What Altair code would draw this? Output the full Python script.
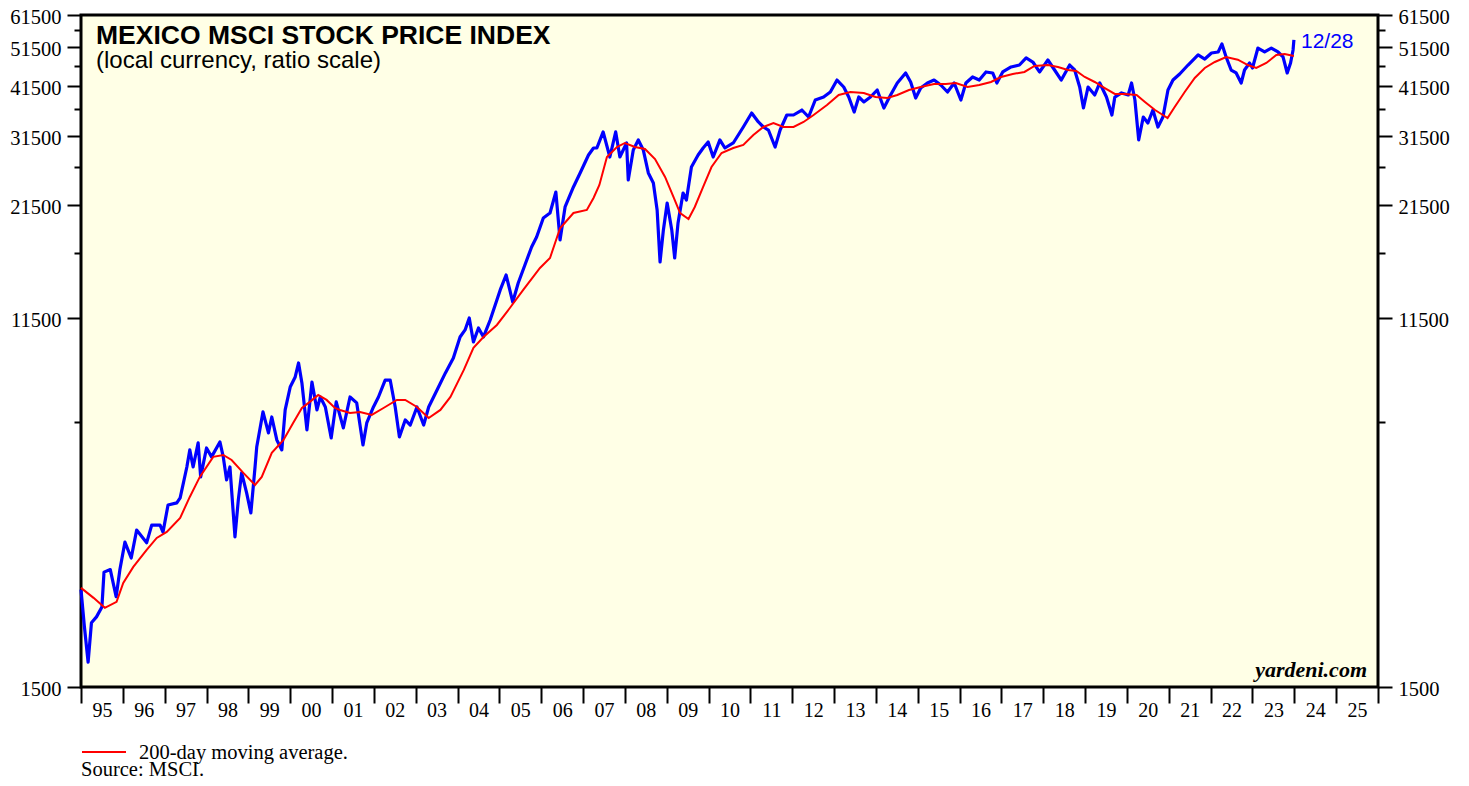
import altair as alt
import pandas as pd

# ---- data ----
IDX_YEAR = [1995.00, 1995.08, 1995.17, 1995.25, 1995.37, 1995.50, 1995.55, 1995.70, 1995.84, 1995.93,
            1996.05, 1996.20, 1996.33, 1996.57, 1996.69, 1996.89, 1996.96, 1997.08, 1997.29, 1997.37,
            1997.53, 1997.60, 1997.68, 1997.80, 1997.86, 1998.00, 1998.12, 1998.32, 1998.40, 1998.48,
            1998.56, 1998.68, 1998.76, 1998.84, 1998.96, 1999.06, 1999.16, 1999.20, 1999.35, 1999.48,
            1999.56, 1999.68, 1999.80, 1999.88, 2000.00, 2000.12, 2000.20, 2000.28, 2000.40, 2000.52,
            2000.64, 2000.72, 2000.84, 2000.98, 2001.10, 2001.27, 2001.43, 2001.59, 2001.74, 2001.83,
            2001.99, 2002.11, 2002.27, 2002.39, 2002.51, 2002.61, 2002.75, 2002.87, 2003.03, 2003.19,
            2003.31, 2003.51, 2003.71, 2003.90, 2004.06, 2004.18, 2004.28, 2004.38, 2004.50, 2004.62,
            2004.78, 2004.94, 2005.02, 2005.16, 2005.32, 2005.45, 2005.61, 2005.77, 2005.89, 2006.05,
            2006.21, 2006.35, 2006.45, 2006.57, 2006.77, 2006.93, 2007.13, 2007.25, 2007.33, 2007.48,
            2007.64, 2007.78, 2007.88, 2008.04, 2008.08, 2008.20, 2008.32, 2008.44, 2008.56, 2008.68,
            2008.77, 2008.84, 2008.92, 2009.01, 2009.12, 2009.19, 2009.27, 2009.39, 2009.47, 2009.59,
            2009.75, 2009.87, 2009.99, 2010.11, 2010.27, 2010.39, 2010.59, 2010.83, 2011.03, 2011.19,
            2011.31, 2011.43, 2011.59, 2011.71, 2011.87, 2012.03, 2012.23, 2012.39, 2012.55, 2012.75,
            2012.91, 2013.07, 2013.23, 2013.35, 2013.48, 2013.59, 2013.71, 2013.87, 2014.03, 2014.19,
            2014.35, 2014.51, 2014.71, 2014.83, 2014.95, 2015.07, 2015.23, 2015.39, 2015.55, 2015.71,
            2015.87, 2016.03, 2016.15, 2016.31, 2016.47, 2016.63, 2016.79, 2016.89, 2017.03, 2017.23,
            2017.43, 2017.59, 2017.75, 2017.91, 2018.11, 2018.27, 2018.43, 2018.63, 2018.75, 2018.87,
            2018.96, 2019.07, 2019.23, 2019.35, 2019.51, 2019.64, 2019.71, 2019.87, 2020.03, 2020.11,
            2020.19, 2020.28, 2020.39, 2020.50, 2020.62, 2020.74, 2020.86, 2020.98, 2021.10, 2021.26,
            2021.46, 2021.70, 2021.86, 2022.02, 2022.18, 2022.27, 2022.37, 2022.49, 2022.61, 2022.73,
            2022.81, 2022.93, 2023.00, 2023.13, 2023.29, 2023.45, 2023.61, 2023.73, 2023.83, 2023.91,
            2023.97, 2023.99]
IDX_VALUE = [2570, 2100, 1720, 2140, 2210, 2335, 2830, 2870, 2470, 2870,
             3340, 3060, 3570, 3330, 3670, 3670, 3530, 4100, 4150, 4265,
             5060, 5560, 5060, 5780, 4790, 5620, 5350, 5810, 5350, 4710,
             5060, 3440, 4220, 4900, 4380, 3925, 5060, 5650, 6860, 6110,
             6670, 5875, 5560, 6935, 7870, 8320, 8990, 8050, 6210, 8090,
             6935, 7450, 7050, 5940, 7250, 6280, 7450, 7210, 5715, 6455,
             7050, 7450, 8180, 8180, 7050, 5975, 6560, 6380, 7050, 6380,
             7050, 7745, 8510, 9240, 10380, 10790, 11530, 10100, 10910, 10380,
             11400, 12730, 13460, 14620, 12590, 13990, 15450, 17070, 18040, 20030,
             20590, 23120, 17740, 21290, 23780, 25690, 28370, 29490, 29490, 32230,
             28060, 32230, 28060, 30320, 24710, 29160, 30830, 29160, 25690, 24300,
             20940, 15710, 18750, 21760, 18750, 16060, 19490, 22990, 22130, 26550,
             28370, 29490, 30490, 28060, 30830, 29490, 30320, 33120, 35780, 34050,
             33120, 32570, 29650, 32570, 35390, 35390, 36380, 35000, 38450, 39090,
             40190, 42930, 41310, 39090, 35980, 39090, 38040, 39090, 40630, 36790,
             39530, 42240, 44640, 42470, 38870, 41080, 42240, 42930, 41770, 40190,
             42240, 38450, 42240, 43660, 42930, 44890, 44640, 42240, 44890, 46140,
             46650, 48500, 47430, 44890, 47960, 45380, 42930, 46650, 45380, 41310,
             36790, 41310, 39530, 42240, 39090, 35390, 39090, 39970, 39530, 42240,
             38450, 30830, 35000, 33860, 36380, 33120, 35000, 40630, 42930, 44390,
             46650, 49310, 48220, 49850, 50130, 52400, 48770, 45380, 44640, 42240,
             45380, 47170, 45890, 51240, 50130, 51240, 50130, 48770, 44640, 47170,
             50690, 53570]

MA_YEAR = [1995.00, 1995.30, 1995.57, 1995.85, 1996.01, 1996.25, 1996.57, 1996.81, 1997.05, 1997.37,
           1997.60, 1997.84, 1998.16, 1998.40, 1998.60, 1998.88, 1999.16, 1999.32, 1999.56, 1999.84,
           2000.07, 2000.28, 2000.47, 2000.67, 2000.87, 2001.07, 2001.19, 2001.43, 2001.67, 2001.95,
           2002.23, 2002.55, 2002.75, 2003.03, 2003.31, 2003.59, 2003.83, 2004.15, 2004.38, 2004.62,
           2004.94, 2005.25, 2005.57, 2005.97, 2006.21, 2006.45, 2006.77, 2007.09, 2007.25, 2007.39,
           2007.57, 2007.81, 2008.00, 2008.24, 2008.48, 2008.72, 2008.96, 2009.16, 2009.32, 2009.52,
           2009.67, 2009.87, 2010.07, 2010.31, 2010.59, 2010.83, 2011.07, 2011.31, 2011.55, 2011.79,
           2012.03, 2012.27, 2012.51, 2012.83, 2013.11, 2013.39, 2013.71, 2013.99, 2014.27, 2014.51,
           2014.79, 2015.07, 2015.39, 2015.67, 2015.91, 2016.19, 2016.47, 2016.75, 2016.99, 2017.27,
           2017.55, 2017.79, 2018.11, 2018.35, 2018.59, 2018.79, 2018.99, 2019.23, 2019.47, 2019.71,
           2019.95, 2020.23, 2020.43, 2020.67, 2020.86, 2020.97, 2021.14, 2021.38, 2021.62, 2021.86,
           2022.10, 2022.37, 2022.65, 2022.89, 2023.09, 2023.33, 2023.57, 2023.77, 2023.99]
MA_VALUE = [2594, 2455, 2323, 2402, 2666, 2913, 3199, 3419, 3533, 3820,
            4288, 4790, 5350, 5408, 5260, 4896, 4582, 4790, 5470, 5875,
            6455, 7010, 7250, 7533, 7330, 7010, 6935, 6820, 6857, 6745,
            7010, 7330, 7330, 7050, 6633, 6935, 7450, 8650, 9770, 10380,
            11090, 12180, 13460, 15200, 16060, 18930, 20590, 20940, 22370, 24039,
            28060, 29650, 30320, 29650, 29330, 27750, 25130, 22500, 20590, 19920,
            21290, 23780, 26550, 28690, 29490, 29985, 31690, 33120, 33860, 33120,
            33120, 34050, 35390, 37400, 39530, 40190, 39970, 39090, 38870, 39530,
            40630, 41310, 42000, 42000, 42240, 41310, 41770, 42470, 43660, 44390,
            44890, 46400, 46650, 46140, 45380, 45130, 43660, 42470, 41080, 39750,
            39750, 39530, 38040, 36380, 35390, 34800, 36990, 40190, 43420, 45890,
            47430, 48770, 48040, 46650, 45890, 47170, 49300, 49580, 49030]

Y_MAJOR = [1500, 11500, 21500, 31500, 41500, 51500, 61500]
Y_MINOR = [6500, 16500, 26500, 36500, 46500, 56500]
X_TICKS = list(range(1995, 2027))

TITLE = "MEXICO MSCI STOCK PRICE INDEX"
SUBTITLE = "(local currency, ratio scale)"
LAST_LABEL = "12/28"
CREDIT = "yardeni.com"
LEGEND_TEXT = "200-day moving average."
SOURCE = "Source: MSCI."

# ---- chart ----
W, H = 1297, 672
SERIF = "Liberation Serif, Times New Roman, serif"
SANS = "Liberation Sans, Arial, Helvetica, sans-serif"

idx_df = pd.DataFrame({"year": IDX_YEAR, "value": IDX_VALUE})
ma_df = pd.DataFrame({"year": MA_YEAR, "value": MA_VALUE})

y_ticks = sorted(Y_MAJOR + Y_MINOR)
major_test = "(datum.value - 1500) % 10000 == 0"


def y_axis(orient):
    return alt.Axis(
        orient=orient,
        values=y_ticks,
        labelExpr=f"{major_test} ? format(datum.value, 'd') : ''",
        tickSize={"condition": {"test": major_test, "value": 14}, "value": 7},
        tickWidth=2,
        tickColor="black",
        domain=False,
        grid=False,
        labelFont=SERIF,
        labelFontSize=20.5,
        labelColor="black",
        labelPadding=6,
        labelOffset=2,
        labelOverlap=False,
        labelFlush=False,
        title=None,
    )


def y_scale():
    return alt.Scale(type="log", domain=[1500, 61500], nice=False, zero=False)


x_axis = alt.Axis(
    values=X_TICKS,
    labelExpr="datum.value < 2026 ? slice(toString(datum.value), 2) : ''",
    labelOffset=20.9,
    tickSize=16,
    tickWidth=2,
    tickColor="black",
    domain=False,
    grid=False,
    labelFont=SERIF,
    labelFontSize=20,
    labelColor="black",
    labelPadding=-3,
    labelFlush=False,
    labelOverlap=False,
    labelAlign="center",
    labelBaseline="top",
    title=None,
)
x_enc = alt.X("year:Q", scale=alt.Scale(domain=[1995, 2026], nice=False, zero=False), axis=x_axis)

blue = alt.Chart(idx_df).mark_line(color="#0000FF", strokeWidth=3.2, strokeJoin="round").encode(
    x=x_enc,
    y=alt.Y("value:Q", scale=y_scale(), axis=y_axis("left")),
)
red = alt.Chart(ma_df).mark_line(color="#FF0000", strokeWidth=2).encode(
    x=x_enc,
    y=alt.Y("value:Q", scale=y_scale(), axis=y_axis("right")),
)


def label(text, x, y, **kw):
    return alt.Chart(pd.DataFrame({"t": [text]})).mark_text(baseline="alphabetic", **kw).encode(
        text="t:N", x=alt.value(x), y=alt.value(y)
    )


title = label(TITLE, 15, 29, align="left", font=SANS, fontSize=26.5, fontWeight="bold", color="black")
subtitle = label(SUBTITLE, 15, 53, align="left", font=SANS, fontSize=24, color="black")
last = label(LAST_LABEL, 1220, 33, align="left", font=SANS, fontSize=21, color="#0000FF")
credit = label(CREDIT, 1286, 662, align="right", font=SERIF, fontSize=22, fontWeight="bold",
               fontStyle="italic", color="black")
legend_txt = label(LEGEND_TEXT, 58, 744, align="left", font=SERIF, fontSize=20.5, color="black")
source_txt = label(SOURCE, 0, 761, align="left", font=SERIF, fontSize=20.5, color="black")
legend_line = alt.Chart(pd.DataFrame({"t": [0]})).mark_rule(color="#FF0000", strokeWidth=2).encode(
    x=alt.value(1), x2=alt.value(45), y=alt.value(737)
)

chart = (
    alt.layer(blue, red, title, subtitle, last, credit, legend_line, legend_txt, source_txt)
    .resolve_scale(y="independent")
    .properties(
        width=W,
        height=H,
        autosize=alt.AutoSizeParams(type="none"),
        padding={"left": 73, "top": 7, "right": 80, "bottom": 91},
        background="white",
    )
    .configure_view(fill="#FFFFE6", stroke="black", strokeWidth=3)
)

chart.save("out.html", embed_options={"renderer": "svg", "actions": False})
